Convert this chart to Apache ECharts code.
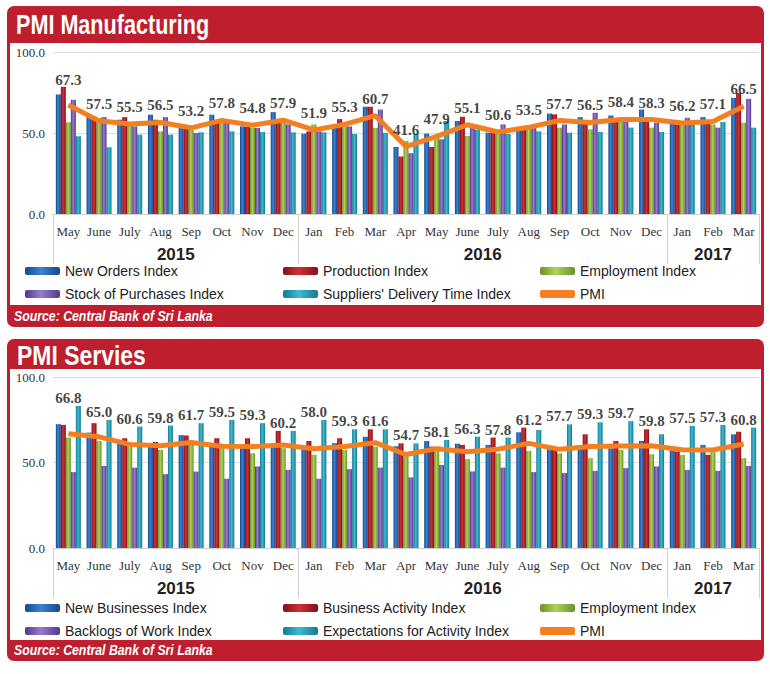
<!DOCTYPE html>
<html><head><meta charset="utf-8">
<script src="https://cdn.jsdelivr.net/npm/echarts@6/dist/echarts.min.js"></script>
<style>html,body{margin:0;padding:0;background:#fff}#c{width:770px;height:674px}</style>
</head><body><div id="c"></div>
<script>
// ---- categories & tick labels ----
const months = ['May','June','July','Aug','Sep','Oct','Nov','Dec','Jan','Feb','Mar','Apr','May','June','July','Aug','Sep','Oct','Nov','Dec','Jan','Feb','Mar'];
const years = ['2015','2016','2017'];
const monthsPerYear = [8, 12, 3];

// ---- PMI Manufacturing ----
const mfgNames = ['New Orders Index','Production Index','Employment Index','Stock of Purchases Index',"Suppliers' Delivery Time Index",'PMI'];
const mfgNewOrders  = [73.8,61.3,58.2,61.3,53.1,61.3,54.1,62.9,49.6,53.1,66.2,41.4,49.6,57.4,50.2,53.7,62.0,59.8,60.8,64.5,56.0,59.8,71.7];
const mfgProduction = [78.5,60.2,59.8,58.2,53.1,56.4,53.7,56.4,51.0,58.6,66.2,35.5,41.4,60.0,50.2,53.7,61.5,56.4,57.4,58.4,55.3,56.4,74.8];
const mfgEmployment = [56.6,59.2,54.5,51.0,52.0,56.8,53.1,58.4,55.3,54.1,53.1,45.1,47.2,48.2,50.2,53.3,53.3,52.3,57.4,53.3,55.3,55.3,56.4];
const mfgStock      = [70.5,59.8,54.1,59.8,50.0,56.4,53.1,55.3,51.0,54.1,64.5,37.5,46.1,55.3,55.3,54.1,55.3,62.5,56.8,56.4,59.4,53.3,71.1];
const mfgSuppliers  = [48.0,41.2,49.0,49.0,50.4,51.0,50.6,50.4,50.4,49.4,50.0,49.4,57.4,52.0,49.4,51.0,50.2,50.6,53.3,50.6,55.3,56.8,53.3];
const mfgPMI        = [67.3,57.5,55.5,56.5,53.2,57.8,54.8,57.9,51.9,55.3,60.7,41.6,47.9,55.1,50.6,53.5,57.7,56.5,58.4,58.3,56.2,57.1,66.5];

// ---- PMI Services ----
const svcNames = ['New Businesses Index','Business Activity Index','Employment Index','Backlogs of Work Index','Expectations for Activity Index','PMI'];
const svcNewBusiness = [72.4,67.5,62.0,60.0,66.0,60.0,58.5,61.3,58.0,61.3,65.0,59.5,62.6,61.0,60.3,67.7,58.3,58.3,58.3,62.6,57.4,60.3,66.5];
const svcActivity    = [72.0,73.0,64.2,62.0,65.8,64.2,64.2,68.5,62.6,64.2,69.4,61.2,59.3,60.3,64.6,70.4,58.3,66.5,62.6,69.4,56.4,54.5,68.0];
const svcEmployment  = [64.6,62.6,59.3,57.4,60.3,58.4,55.4,58.4,54.5,57.4,59.3,53.5,57.4,52.0,55.4,56.8,55.4,52.5,57.4,54.8,54.5,56.0,52.5];
const svcBacklogs    = [44.4,48.0,47.0,43.2,44.7,40.5,47.7,45.7,40.5,46.1,47.0,41.3,48.6,44.8,47.0,44.4,43.8,45.1,46.7,47.7,45.7,45.1,48.0];
const svcExpectation = [83.0,74.9,71.0,71.6,73.0,74.9,73.0,68.5,74.9,69.4,69.4,61.2,63.2,65.1,64.6,69.0,72.3,73.5,74.2,66.5,71.4,72.0,70.4];
const svcPMI         = [66.8,65.0,60.6,59.8,61.7,59.5,59.3,60.2,58.0,59.3,61.6,54.7,58.1,56.3,57.8,61.2,57.7,59.3,59.7,59.8,57.5,57.3,60.8];

// ---- styling ----
const RED = '#be1e2d';
const SANS = '"Liberation Sans",Arial,sans-serif';
const SERIF = '"Liberation Serif","DejaVu Serif",serif';
function grad(dark, light){
  return new echarts.graphic.LinearGradient(0,0,1,0,[{offset:0,color:dark},{offset:0.45,color:light},{offset:1,color:dark}]);
}
const barColors = [
  grad('#184689','#3a84d2'),
  grad('#841015','#cf3037'),
  grad('#66922a','#b2d258'),
  grad('#533889','#987bcf'),
  grad('#12798f','#3fbad4')
];
const PMI_COLOR = '#f37f21';

// year axis slots (half-month resolution)
const slotCount = months.length * 2 + 1;
const yearSlots = new Array(slotCount).fill('');
const yearBounds = new Set([0]);
let start = 0;
years.forEach((y, i) => {
  yearSlots[2*start + monthsPerYear[i]] = y;
  start += monthsPerYear[i];
  yearBounds.add(2*start);
});

function monthAxis(g){
  return {type:'category', gridIndex:g, data:months, boundaryGap:true,
    axisLine:{show:true, lineStyle:{color:'#cfcfcf'}}, axisTick:{show:false},
    axisLabel:{interval:0, margin:11, color:'#333', fontFamily:SERIF, fontSize:13}};
}
function yearAxis(g, len, margin){
  return {type:'category', gridIndex:g, data:yearSlots, boundaryGap:false, position:'bottom',
    axisLine:{show:false},
    axisTick:{show:true, length:len, interval:(i)=>yearBounds.has(i), lineStyle:{color:'#d0d0d0'}},
    axisLabel:{interval:0, margin:margin, color:'#222', fontFamily:SANS, fontWeight:'bold', fontSize:17}};
}
function valAxis(g){
  return {type:'value', gridIndex:g, min:0, max:100, interval:50,
    axisLine:{show:false}, axisTick:{show:false},
    splitLine:{lineStyle:{color:'#dcdcdc'}},
    axisLabel:{margin:8, color:'#333', fontFamily:SERIF, fontSize:13, formatter:(v)=>v.toFixed(1)}};
}
function bars(names, arrays, g){
  return arrays.map((arr, i) => ({
    name:names[i], type:'bar', xAxisIndex:g*2, yAxisIndex:g, data:arr,
    barWidth:5, barGap:'0%', itemStyle:{color:barColors[i]}, silent:true
  }));
}
const groupMax = (arrs) => months.map((_, i) => Math.max(...arrs.map(a => a[i])));

const mfgArrays = [mfgNewOrders, mfgProduction, mfgEmployment, mfgStock, mfgSuppliers];
const svcArrays = [svcNewBusiness, svcActivity, svcEmployment, svcBacklogs, svcExpectation];
const mfgMax = groupMax(mfgArrays);

const labelStyle = {show:true, color:'#111', fontFamily:SERIF, fontWeight:'bold', fontSize:15};

const legendBase = {orient:'vertical', itemWidth:35, itemHeight:8, itemGap:7, padding:0, selectedMode:false,
  textStyle:{fontFamily:SANS, fontSize:14, color:'#222', lineHeight:16}};
const pmiLegendItem = {name:'PMI', icon:'roundRect', itemStyle:{color:PMI_COLOR}};

const option = {
  animation:false,
  graphic:[
    {type:'rect', z:-20, shape:{x:7,y:6,width:757,height:321,r:7}, style:{fill:RED}},
    {type:'rect', z:-19, shape:{x:10,y:43,width:751,height:262}, style:{fill:'#fff'}},
    {type:'text', z:5, x:16, y:25, scaleX:0.8, style:{text:'PMI Manufacturing', fill:'#fff', fontFamily:SANS, fontWeight:'bold', fontSize:27, verticalAlign:'middle'}},
    {type:'text', z:5, x:14, y:316, scaleX:0.82, style:{text:'Source: Central Bank of Sri Lanka', fill:'#fff', fontFamily:SANS, fontWeight:'bold', fontStyle:'italic', fontSize:15, verticalAlign:'middle'}},
    {type:'rect', z:-20, shape:{x:7,y:339,width:757,height:322,r:7}, style:{fill:RED}},
    {type:'rect', z:-19, shape:{x:10,y:369,width:751,height:271}, style:{fill:'#fff'}},
    {type:'text', z:5, x:17, y:355, scaleX:0.85, style:{text:'PMI Servies', fill:'#fff', fontFamily:SANS, fontWeight:'bold', fontSize:27, verticalAlign:'middle'}},
    {type:'text', z:5, x:14, y:650, scaleX:0.82, style:{text:'Source: Central Bank of Sri Lanka', fill:'#fff', fontFamily:SANS, fontWeight:'bold', fontStyle:'italic', fontSize:15, verticalAlign:'middle'}}
  ],
  grid:[
    {left:53, right:11, top:52, height:162},
    {left:53, right:11, top:377, height:171}
  ],
  xAxis:[monthAxis(0), yearAxis(0, 50, 32), monthAxis(1), yearAxis(1, 50, 32)],
  yAxis:[valAxis(0), valAxis(1)],
  legend:[
    Object.assign({}, legendBase, {left:25, top:263, data:[mfgNames[0], mfgNames[3]]}),
    Object.assign({}, legendBase, {left:283, top:263, data:[mfgNames[1], mfgNames[4]]}),
    Object.assign({}, legendBase, {left:540, top:263, data:[mfgNames[2], pmiLegendItem]}),
    Object.assign({}, legendBase, {left:25, top:600, data:[svcNames[0], svcNames[3]]}),
    Object.assign({}, legendBase, {left:283, top:600, data:[svcNames[1], svcNames[4]]}),
    Object.assign({}, legendBase, {left:540, top:600, data:[svcNames[2], pmiLegendItem]})
  ],
  series:[
    ...bars(mfgNames, mfgArrays, 0),
    {name:'PMI', type:'line', xAxisIndex:0, yAxisIndex:0, data:mfgPMI, symbol:'none', z:5,
      lineStyle:{width:5, color:PMI_COLOR}, itemStyle:{color:PMI_COLOR}},
    {name:'mfgLabels', type:'scatter', xAxisIndex:0, yAxisIndex:0, symbolSize:1, z:6, silent:true,
      data:mfgPMI.map((v, i) => (mfgMax[i] - v > 10 ? {value:v, label:{distance:17}} : v)),
      itemStyle:{color:'rgba(0,0,0,0)'},
      label:Object.assign({position:'top', distance:9, formatter:(p)=>mfgPMI[p.dataIndex].toFixed(1)}, labelStyle)},
    ...bars(svcNames, svcArrays, 1),
    {name:'PMI', type:'line', xAxisIndex:2, yAxisIndex:1, data:svcPMI, symbol:'none', z:5,
      lineStyle:{width:5, color:PMI_COLOR}, itemStyle:{color:PMI_COLOR}},
    {name:'svcLabels', type:'scatter', xAxisIndex:2, yAxisIndex:1, data:groupMax(svcArrays), symbolSize:1, z:6, silent:true,
      itemStyle:{color:'rgba(0,0,0,0)'},
      label:Object.assign({position:'top', distance:0, formatter:(p)=>svcPMI[p.dataIndex].toFixed(1)}, labelStyle)}
  ]
};
const chart = echarts.init(document.getElementById('c'), null, {renderer:'svg'});
chart.setOption(option);
</script></body></html>
